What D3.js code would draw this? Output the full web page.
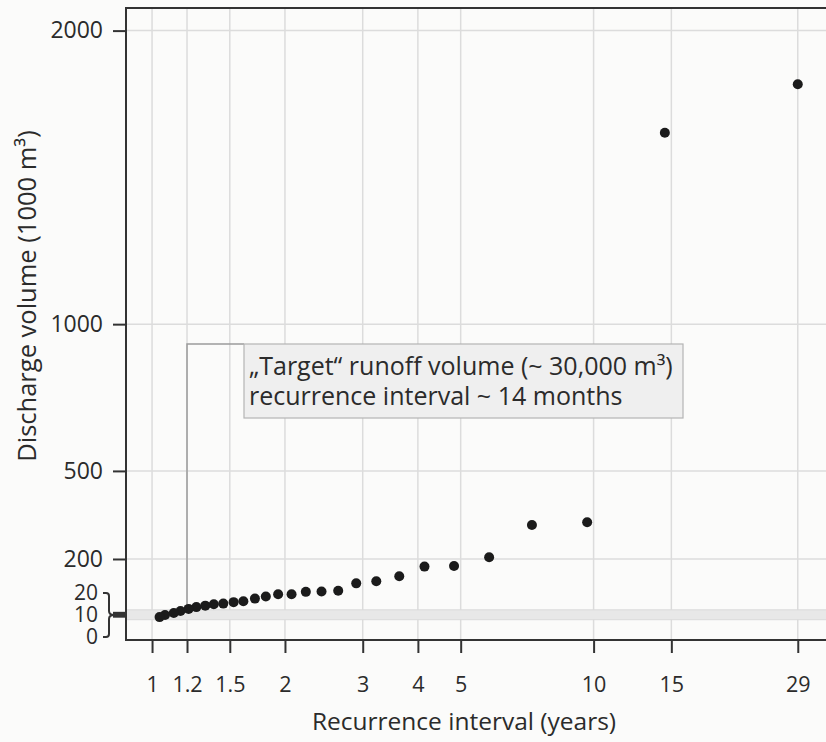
<!DOCTYPE html>
<html><head><meta charset="utf-8">
<script src="https://cdn.jsdelivr.net/npm/d3@7"></script>
<style>
html,body{margin:0;padding:0;background:#fbfbfa;}
svg{display:block;font-family:"Open Sans",sans-serif;}
</style></head><body>
<svg id="chart" width="826" height="742"></svg>
<script>
// Recurrence interval (years) of each annual event, ranked largest first
const recurrence = [29, 14.5, 9.67, 7.25, 5.8, 4.83, 4.14, 3.63, 3.22, 2.9, 2.64, 2.42, 2.23, 2.07,
  1.93, 1.81, 1.71, 1.61, 1.53, 1.45, 1.38, 1.32, 1.26, 1.21, 1.16, 1.12, 1.07, 1.04];
// Discharge volume of each event (1000 m³)
const discharge = [1817, 1652, 325, 316, 206, 176, 174, 141, 124, 117, 92, 89, 88, 80,
  80, 72, 65, 56, 53, 48, 46, 41, 36, 30, 23, 16, 9, 2];
const xTicks = [1, 1.2, 1.5, 2, 3, 4, 5, 10, 15, 29];
const xTickLabels = ["1", "1.2", "1.5", "2", "3", "4", "5", "10", "15", "29"];
const yTicks = [200, 500, 1000, 2000];
const insetTicks = [0, 10, 20];
const target = {interval: 1.2, volume: 30};
const noteLines = ["\u201eTarget\u201c runoff volume (~ 30,000 m\u00b3)", "recurrence interval ~ 14 months"];

const plot = {left: 126, right: 826, top: 8, bottom: 640};
const ink = "#333", grid = "#dcdcdc", textInk = "#2b2b2b";

const svg = d3.select("#chart");

const x = d3.scaleLog().domain([0.873, 33.6]).range([plot.left, plot.right]);
const y = d3.scaleLinear().domain([-76, 2077]).range([plot.bottom, plot.top]);
// expanded view of the 0–20 strip, drawn beside the axis
const yInset = d3.scaleLinear().domain([0, 20]).range([637, 593]);

// grid
svg.append("g").selectAll("line").data(xTicks).join("line")
  .attr("x1", d => x(d)).attr("x2", d => x(d))
  .attr("y1", plot.top).attr("y2", plot.bottom)
  .attr("stroke", grid).attr("stroke-width", 1.5);
svg.append("g").selectAll("line").data(yTicks).join("line")
  .attr("x1", plot.left).attr("x2", plot.right)
  .attr("y1", d => y(d)).attr("y2", d => y(d))
  .attr("stroke", grid).attr("stroke-width", 1.5);

// 0–20 strip across the plot
svg.append("rect")
  .attr("x", plot.left).attr("width", plot.right - plot.left)
  .attr("y", y(20) - 2).attr("height", y(0) - y(20) + 4)
  .attr("fill", "#e8e8e8");
svg.append("g").selectAll("line").data([0, 20]).join("line")
  .attr("x1", plot.left).attr("x2", plot.right)
  .attr("y1", (d, i) => y(d) + (i ? -2 : 2)).attr("y2", (d, i) => y(d) + (i ? -2 : 2))
  .attr("stroke", "#dadada").attr("stroke-width", 1);

// callout
const boxL = 244, boxR = 683, boxT = 344, boxB = 418;
svg.append("path")
  .attr("d", `M${x(target.interval)},${y(target.volume)}V${boxT}H${boxL}`)
  .attr("fill", "none").attr("stroke", "#9c9c9c").attr("stroke-width", 1.5);
svg.append("rect")
  .attr("x", boxL).attr("y", boxT).attr("width", boxR - boxL).attr("height", boxB - boxT)
  .attr("fill", "#efefef").attr("stroke", "#b4b4b4").attr("stroke-width", 1.2);
svg.append("g").selectAll("text").data(noteLines).join("text")
  .attr("x", 249).attr("y", (d, i) => 375 + i * 30)
  .attr("font-size", 25).attr("fill", textInk)
  .text(d => d);

// points
svg.append("g").selectAll("circle").data(recurrence).join("circle")
  .attr("cx", d => x(d)).attr("cy", (d, i) => y(discharge[i]))
  .attr("r", 5).attr("fill", "#1b1b1b");

// axes frame
svg.append("path")
  .attr("d", `M${plot.right},${plot.top}H${plot.left}V${plot.bottom}H${plot.right}`)
  .attr("fill", "none").attr("stroke", ink).attr("stroke-width", 2);

const xAxis = svg.append("g").attr("transform", `translate(0,${plot.bottom})`)
  .call(d3.axisBottom(x).tickValues(xTicks).tickFormat((d, i) => xTickLabels[i])
    .tickSize(13).tickPadding(24));
xAxis.select(".domain").remove();
xAxis.selectAll("line").attr("stroke", ink).attr("stroke-width", 2);
xAxis.selectAll("text").attr("font-size", 21.5).attr("fill", textInk).attr("font-family", "Open Sans");

const yAxis = svg.append("g").attr("transform", `translate(${plot.left},0)`)
  .call(d3.axisLeft(y).tickValues(yTicks).tickSize(13).tickPadding(10).tickFormat(d3.format("d")));
yAxis.select(".domain").remove();
yAxis.selectAll("line").attr("stroke", ink).attr("stroke-width", 2);
yAxis.selectAll("text").attr("font-size", 23).attr("fill", textInk).attr("font-family", "Open Sans");

// brace linking the expanded 0–20 labels to the strip on the axis
const bx = 103, spine = 109, tip = 114;
svg.append("path")
  .attr("d", `M${bx},${yInset(20)}H${spine - 3}Q${spine},${yInset(20)} ${spine},${yInset(20) + 3}` +
    `V${yInset(10) - 4}Q${spine},${yInset(10)} ${tip},${yInset(10)}` +
    `Q${spine},${yInset(10)} ${spine},${yInset(10) + 4}V${yInset(0) - 3}` +
    `Q${spine},${yInset(0)} ${spine - 3},${yInset(0)}H${bx}`)
  .attr("fill", "none").attr("stroke", ink).attr("stroke-width", 2);
svg.append("rect")
  .attr("x", tip - 1).attr("width", plot.left - tip + 1)
  .attr("y", y(20)).attr("height", y(0) - y(20))
  .attr("fill", ink);
svg.append("g").selectAll("text").data(insetTicks).join("text")
  .attr("x", 98).attr("y", d => yInset(d)).attr("dy", "0.35em")
  .attr("text-anchor", "end").attr("font-size", 21).attr("fill", textInk)
  .text(d => d);

// axis titles
svg.append("text")
  .attr("transform", `translate(27,296) rotate(-90)`)
  .attr("text-anchor", "middle").attr("dy", "0.35em")
  .attr("font-size", 25.5).attr("fill", textInk)
  .text("Discharge volume (1000 m\u00b3)");
svg.append("text")
  .attr("x", 464).attr("y", 721).attr("dy", "0.35em")
  .attr("text-anchor", "middle").attr("font-size", 24.5).attr("fill", textInk)
  .text("Recurrence interval (years)");
</script>
</body></html>
